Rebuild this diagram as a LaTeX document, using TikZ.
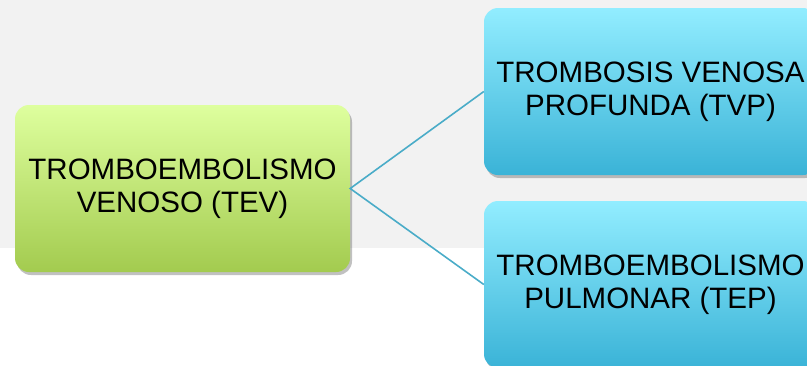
\documentclass[tikz,border=0pt]{standalone}
\usepackage{fontspec}
\setmainfont{Liberation Sans}
\usetikzlibrary{shadows}
\definecolor{bggray}{HTML}{F2F2F2}
\definecolor{greentop}{HTML}{DEFF9E}
\definecolor{greenbot}{HTML}{A3CB4F}
\definecolor{cyantop}{HTML}{92EDFF}
\definecolor{cyanbot}{HTML}{3AB3D7}
\definecolor{linkcol}{HTML}{4AACC8}
\begin{document}
\begin{tikzpicture}[x=1pt,y=-1pt,
  box/.style={rounded corners=14pt, align=center, inner sep=0pt,
    font=\fontsize{29.5}{33}\selectfont, text=black,
    minimum height=167pt,
    drop shadow={shadow xshift=2pt, shadow yshift=-3pt, opacity=0.35, fill=black!70}},
  greenbox/.style={box, top color=greentop, bottom color=greenbot, minimum width=335pt},
  cyanbox/.style={box, top color=cyantop, bottom color=cyanbot, minimum width=333pt},
  link/.style={draw=linkcol, line width=1.6pt}
]
\useasboundingbox (0,0) rectangle (807,365);
% light band behind the upper part
\fill[bggray] (0,0) rectangle (807,248);

\node[greenbox] (tev) at (182.5,188.5) {TROMBOEMBOLISMO\\VENOSO (TEV)};
\node[cyanbox] (tvp) at (650.5,91.5) {TROMBOSIS VENOSA\\PROFUNDA (TVP)};
\node[cyanbox] (tep) at (650.5,284.5) {TROMBOEMBOLISMO\\PULMONAR (TEP)};

\draw[link] (tvp.west) -- (tev.east) -- (tep.west);
\end{tikzpicture}
\end{document}
